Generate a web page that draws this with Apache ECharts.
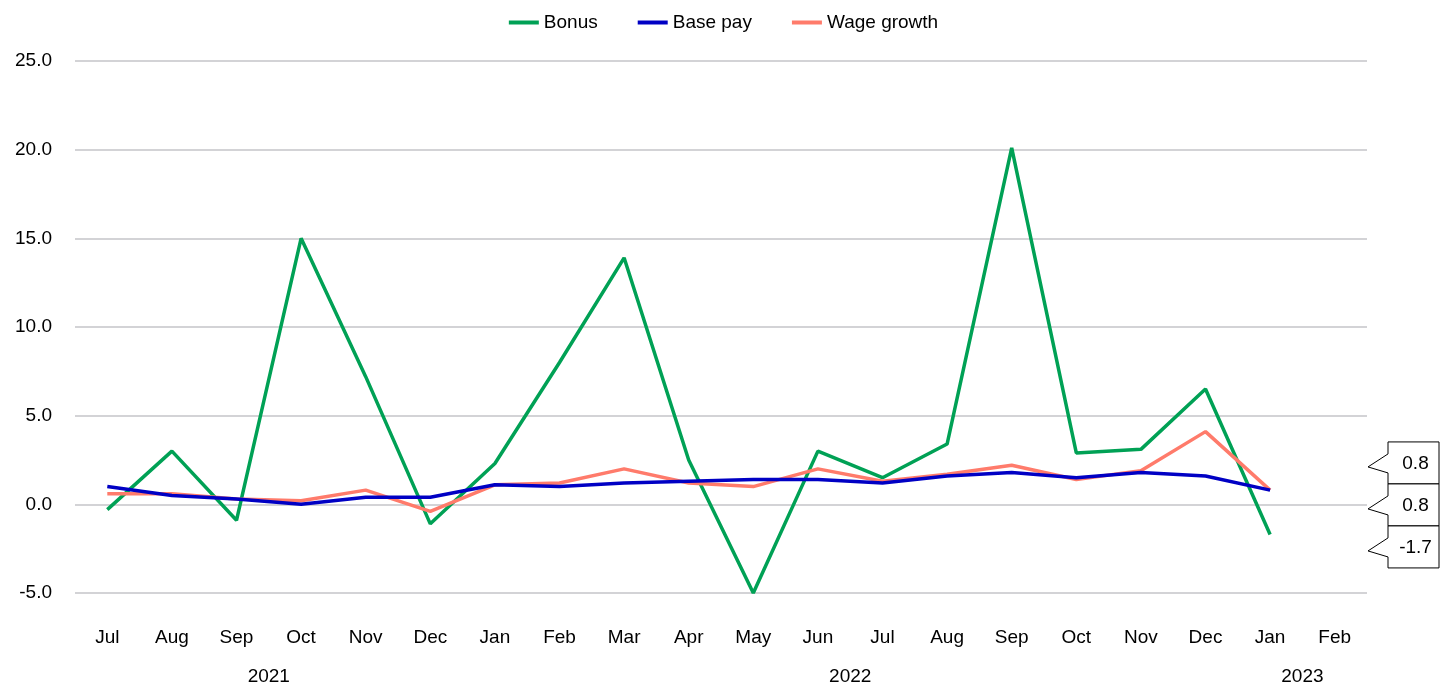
<!DOCTYPE html>
<html>
<head>
<meta charset="utf-8">
<script src="https://cdn.jsdelivr.net/npm/echarts@6/dist/echarts.min.js"></script>
<style>
  html, body { margin: 0; padding: 0; background: #fff; }
  #chart { width: 1447px; height: 685px; }
</style>
</head>
<body>
<div id="chart"></div>
<script>
// categories (Jul 2021 .. Feb 2023)
const months = ['Jul', 'Aug', 'Sep', 'Oct', 'Nov', 'Dec', 'Jan', 'Feb', 'Mar', 'Apr', 'May', 'Jun',
                'Jul', 'Aug', 'Sep', 'Oct', 'Nov', 'Dec', 'Jan', 'Feb'];
// year groups: [label, first index, last index]
const years = [['2021', 0, 5], ['2022', 6, 17], ['2023', 18, 19]];

const bonus = [-0.3, 3.0, -0.9, 15.0, 7.2, -1.1, 2.3, 8.0, 13.9, 2.5, -5.0, 3.0,
               1.5, 3.4, 20.1, 2.9, 3.1, 6.5, -1.7];
const basePay = [1.0, 0.5, 0.3, 0.0, 0.4, 0.4, 1.1, 1.0, 1.2, 1.3, 1.4, 1.4,
                 1.2, 1.6, 1.8, 1.5, 1.8, 1.6, 0.8];
const wageGrowth = [0.6, 0.6, 0.3, 0.2, 0.8, -0.4, 1.1, 1.2, 2.0, 1.2, 1.0, 2.0,
                    1.3, 1.7, 2.2, 1.4, 1.9, 4.1, 0.8];

const yMin = -5, yMax = 25, yStep = 5;

const fontFamily = '"Liberation Sans", Arial, sans-serif';
const fontSize = 19;
const colors = { bonus: '#00a155', base: '#0000c4', wage: '#ff7b6b' };

const chart = echarts.init(document.getElementById('chart'));

function lineSeries(name, data, color) {
  return {
    name: name,
    type: 'line',
    data: data,
    symbol: 'none',
    smooth: false,
    lineStyle: { color: color, width: 3.5 },
    itemStyle: { color: color },
    z: name === 'Bonus' ? 2 : (name === 'Base pay' ? 4 : 3)
  };
}

const option = {
  animation: false,
  backgroundColor: '#fff',
  textStyle: { fontFamily: fontFamily },
  grid: { left: 75, right: 80, top: 61, bottom: 92 },
  legend: {
    top: 8,
    left: 'center',
    itemWidth: 30,
    itemHeight: 4,
    itemGap: 40,
    icon: 'rect',
    textStyle: { fontSize: fontSize, color: '#000', fontFamily: fontFamily, padding: [0, 0, 0, 0] },
    data: ['Bonus', 'Base pay', 'Wage growth']
  },
  xAxis: {
    type: 'category',
    data: months,
    boundaryGap: true,
    axisLine: { show: false },
    axisTick: { show: false },
    axisLabel: { interval: 0, margin: 35, fontSize: fontSize, color: '#000', fontFamily: fontFamily },
    splitLine: { show: false }
  },
  yAxis: {
    type: 'value',
    min: yMin,
    max: yMax,
    interval: yStep,
    axisLine: { show: false },
    axisTick: { show: false },
    axisLabel: {
      margin: 23,
      fontSize: fontSize,
      color: '#000',
      fontFamily: fontFamily,
      formatter: function (v) { return v.toFixed(1); }
    },
    splitLine: { lineStyle: { color: '#c4c4c8', width: 1.5 } }
  },
  series: [
    lineSeries('Bonus', bonus, colors.bonus),
    lineSeries('Base pay', basePay, colors.base),
    lineSeries('Wage growth', wageGrowth, colors.wage)
  ]
};

chart.setOption(option);

// ---- year labels under the month labels ----
const graphics = [];
years.forEach(function (y) {
  const a = chart.convertToPixel({ xAxisIndex: 0 }, y[1]);
  const b = chart.convertToPixel({ xAxisIndex: 0 }, y[2]);
  graphics.push({
    type: 'text',
    x: (a + b) / 2,
    y: 677,
    style: {
      text: y[0], fontSize: fontSize, fill: '#000', fontFamily: fontFamily,
      align: 'center', verticalAlign: 'middle'
    }
  });
});

// ---- end-value callouts on the right, stacked ----
const last = bonus.length - 1;
const ends = [
  { v: wageGrowth[last] },
  { v: basePay[last] },
  { v: bonus[last] }
];
ends.forEach(function (e) { e.py = chart.convertToPixel({ yAxisIndex: 0 }, e.v); });
const boxH = 42;
const meanY = ends.reduce(function (s, e) { return s + e.py; }, 0) / ends.length;
const startY = meanY - boxH * ends.length / 2;
const x0 = 1388, x1 = 1439;
ends.forEach(function (e, i) {
  const t = startY + i * boxH, b = t + boxH, cy = (t + b) / 2;
  graphics.push({
    type: 'polygon',
    shape: {
      points: [[x0, t], [x1, t], [x1, b], [x0, b], [x0, cy + 10], [x0 - 20, cy + 4], [x0, cy - 9]]
    },
    style: { fill: '#fff', stroke: '#000', lineWidth: 1 },
    z: 10
  });
  graphics.push({
    type: 'text',
    x: (x0 + x1) / 2 + 2,
    y: cy + 1,
    style: {
      text: e.v.toFixed(1), fontSize: fontSize, fill: '#000', fontFamily: fontFamily,
      align: 'center', verticalAlign: 'middle'
    },
    z: 11
  });
});

chart.setOption({ graphic: graphics });

window.addEventListener('resize', function () { chart.resize(); });
</script>
</body>
</html>
